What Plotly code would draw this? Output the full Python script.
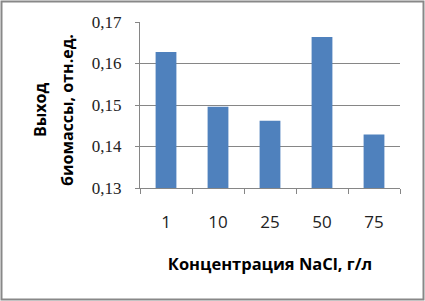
import plotly.graph_objects as go

categories = ["1", "10", "25", "50", "75"]
values = [0.1628, 0.1496, 0.1462, 0.1664, 0.1429]
y_ticks = [0.13, 0.14, 0.15, 0.16, 0.17]

W, H = 425, 301
L, R, T, B = 140, 25, 22, 113
pw, ph = W - L - R, H - T - B

def px(x):
    return (x - L) / pw

def py(y):
    return (H - B - y) / ph

fig = go.Figure(go.Bar(x=categories, y=values, marker_color="#4F81BD", marker_line_width=0,
                       hoverinfo="skip"))

fig.update_layout(
    width=W, height=H,
    margin=dict(l=L, r=R, t=T, b=B),
    paper_bgcolor="white", plot_bgcolor="white",
    separators=", ",
    bargap=0.6,
    showlegend=False,
    xaxis=dict(
        type="category", range=[-0.5, 4.5],
        showline=True, linecolor="#868686", linewidth=1,
        ticks="outside", tickson="boundaries", ticklen=5, tickcolor="#868686",
        ticklabelstandoff=19,
        tickfont=dict(family="Open Sans", size=17, color="#222"),
        title=dict(text="<b>Концентрация NaCl, г/л</b>",
                   font=dict(family="Open Sans", size=16.5, color="#000"), standoff=26),
        showgrid=False,
    ),
    yaxis=dict(
        range=[0.13, 0.17], tickvals=y_ticks, tickformat=".2f",
        showline=True, linecolor="#868686", linewidth=1,
        ticks="outside", ticklen=4, tickcolor="#868686",
        ticklabelstandoff=10,
        showgrid=True, gridcolor="#868686", gridwidth=1,
        tickfont=dict(family="Liberation Serif", size=17, color="#222"),
        zeroline=False,
    ),
    annotations=[
        dict(text="<b>Выход</b>", xref="paper", yref="paper", x=px(40), y=py(110),
             xanchor="center", yanchor="middle", textangle=-90, showarrow=False,
             font=dict(family="Open Sans", size=16, color="#000")),
        dict(text="<b>биомассы, отн.ед.</b>", xref="paper", yref="paper", x=px(67), y=py(110),
             xanchor="center", yanchor="middle", textangle=-90, showarrow=False,
             font=dict(family="Open Sans", size=16, color="#000")),
    ],
    shapes=[
        dict(type="rect", xref="paper", yref="paper",
             x0=px(1.5), x1=px(423.5), y0=py(299.5), y1=py(1.5),
             line=dict(color="#888888", width=2), fillcolor="rgba(0,0,0,0)", layer="above"),
    ],
)

fig.write_html("out.html", config={"displayModeBar": False},
               post_script="document.body.style.margin='0';")
